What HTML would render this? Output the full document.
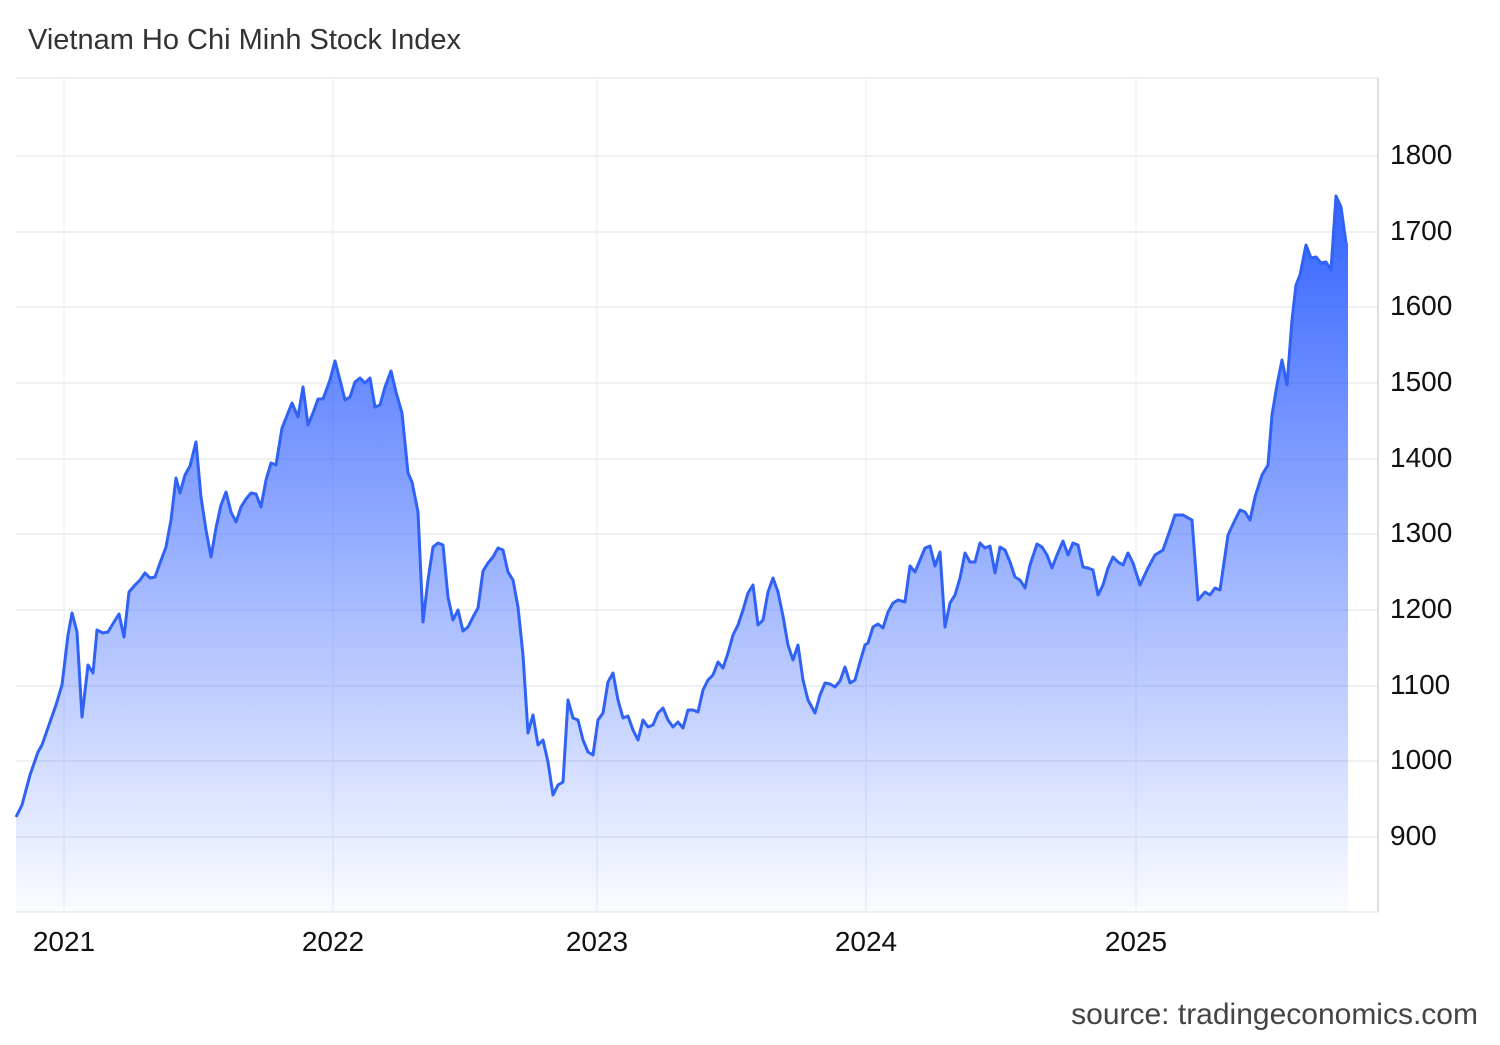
<!DOCTYPE html>
<html><head><meta charset="utf-8"><style>
body{margin:0;background:#fff;}
svg text{font-family:"Liberation Sans",Arial,sans-serif;}
</style></head><body>
<svg width="1500" height="1040" viewBox="0 0 1500 1040" xmlns="http://www.w3.org/2000/svg">
<defs>
<linearGradient id="fill" gradientUnits="userSpaceOnUse" x1="0" y1="195" x2="0" y2="912">
<stop offset="0" stop-color="#3363ff" stop-opacity="1"/>
<stop offset="1" stop-color="#3a66ff" stop-opacity="0.02"/>
</linearGradient>
</defs>
<text x="28" y="49" font-size="29" fill="#333">Vietnam Ho Chi Minh Stock Index</text>
<g stroke="#e3e6ea" stroke-width="1.3">
<line x1="16" y1="78" x2="1378" y2="78"/>
<line x1="16" y1="156" x2="1378" y2="156"/>
<line x1="16" y1="232" x2="1378" y2="232"/>
<line x1="16" y1="307" x2="1378" y2="307"/>
<line x1="16" y1="383" x2="1378" y2="383"/>
<line x1="16" y1="459" x2="1378" y2="459"/>
<line x1="16" y1="534" x2="1378" y2="534"/>
<line x1="16" y1="610" x2="1378" y2="610"/>
<line x1="16" y1="686" x2="1378" y2="686"/>
<line x1="16" y1="761" x2="1378" y2="761"/>
<line x1="16" y1="837" x2="1378" y2="837"/>
<line x1="16" y1="912" x2="1378" y2="912"/>
<line x1="64" y1="78" x2="64" y2="912" stroke="#e8f0f6"/>
<line x1="333" y1="78" x2="333" y2="912" stroke="#e8f0f6"/>
<line x1="597" y1="78" x2="597" y2="912" stroke="#e8f0f6"/>
<line x1="866" y1="78" x2="866" y2="912" stroke="#e8f0f6"/>
<line x1="1136" y1="78" x2="1136" y2="912" stroke="#e8f0f6"/>
<line x1="1378" y1="78" x2="1378" y2="912" stroke="#ccc"/>
</g>
<path fill="url(#fill)" d="M16,817 L22,805 L30,775 L38,752 L42,745 L50,722 L56,705 L62,685 L68,635 L72,613 L77,632 L82,717 L88,665 L93,673 L97,630 L103,633 L108,632 L114,622 L119,614 L124,637 L129,592 L135,585 L140,580 L145,573 L150,578 L155,577 L160,563 L166,547 L171,520 L176,478 L180,493 L185,475 L190,466 L196,442 L201,497 L206,530 L211,557 L216,528 L221,505 L226,492 L231,512 L236,522 L241,507 L246,499 L251,493 L256,494 L261,507 L266,480 L271,463 L276,465 L282,428 L286,418 L292,403 L298,417 L303,387 L308,425 L313,413 L318,399 L323,399 L330,380 L335,361 L340,380 L345,400 L350,397 L355,382 L360,378 L365,383 L370,378 L375,407 L380,405 L385,387 L391,371 L396,392 L402,413 L408,473 L412,482 L418,512 L423,622 L428,580 L433,547 L438,543 L443,545 L448,597 L453,620 L458,610 L463,631 L468,627 L473,617 L478,608 L483,571 L488,563 L493,557 L498,548 L503,550 L508,572 L513,580 L518,607 L523,655 L528,733 L533,715 L538,745 L543,740 L548,762 L553,795 L558,785 L563,782 L568,700 L573,718 L578,720 L583,740 L588,752 L593,755 L598,720 L603,713 L608,682 L613,673 L618,700 L623,718 L628,716 L633,730 L638,740 L643,720 L648,727 L653,725 L658,713 L663,708 L668,720 L673,727 L678,722 L683,728 L688,710 L693,710 L698,712 L703,690 L708,680 L713,675 L718,662 L723,668 L728,653 L733,635 L738,625 L743,610 L748,593 L753,585 L758,625 L763,620 L768,592 L773,578 L778,592 L783,616 L788,645 L793,660 L798,645 L803,680 L808,700 L815,713 L820,695 L825,683 L830,684 L835,687 L840,681 L845,667 L850,683 L855,680 L860,662 L865,645 L868,643 L873,627 L878,624 L883,628 L888,612 L893,603 L898,600 L905,602 L910,566 L915,572 L920,560 L925,548 L930,546 L935,566 L940,552 L945,627 L950,603 L955,595 L960,578 L965,553 L970,562 L975,562 L980,543 L985,548 L990,546 L995,573 L1000,547 L1005,550 L1010,562 L1015,577 L1020,580 L1025,588 L1030,565 L1037,544 L1042,547 L1047,555 L1052,568 L1057,555 L1063,541 L1068,555 L1073,543 L1078,545 L1083,567 L1088,568 L1093,570 L1098,595 L1103,585 L1108,568 L1113,557 L1118,562 L1123,565 L1128,553 L1133,563 L1140,585 L1148,568 L1155,555 L1163,550 L1170,530 L1175,515 L1183,515 L1192,520 L1198,600 L1205,592 L1210,595 L1215,588 L1220,590 L1228,535 L1235,520 L1240,510 L1245,512 L1250,520 L1255,497 L1262,475 L1268,465 L1272,415 L1277,385 L1282,360 L1287,385 L1292,320 L1296,285 L1300,275 L1306,245 L1311,258 L1316,257 L1321,263 L1326,262 L1331,270 L1336,196 L1341,207 L1346,243 L1348,243 L1348,912 L16,912 Z"/>
<path fill="none" stroke="#2f62f5" stroke-width="3" stroke-linejoin="round" d="M16,817 L22,805 L30,775 L38,752 L42,745 L50,722 L56,705 L62,685 L68,635 L72,613 L77,632 L82,717 L88,665 L93,673 L97,630 L103,633 L108,632 L114,622 L119,614 L124,637 L129,592 L135,585 L140,580 L145,573 L150,578 L155,577 L160,563 L166,547 L171,520 L176,478 L180,493 L185,475 L190,466 L196,442 L201,497 L206,530 L211,557 L216,528 L221,505 L226,492 L231,512 L236,522 L241,507 L246,499 L251,493 L256,494 L261,507 L266,480 L271,463 L276,465 L282,428 L286,418 L292,403 L298,417 L303,387 L308,425 L313,413 L318,399 L323,399 L330,380 L335,361 L340,380 L345,400 L350,397 L355,382 L360,378 L365,383 L370,378 L375,407 L380,405 L385,387 L391,371 L396,392 L402,413 L408,473 L412,482 L418,512 L423,622 L428,580 L433,547 L438,543 L443,545 L448,597 L453,620 L458,610 L463,631 L468,627 L473,617 L478,608 L483,571 L488,563 L493,557 L498,548 L503,550 L508,572 L513,580 L518,607 L523,655 L528,733 L533,715 L538,745 L543,740 L548,762 L553,795 L558,785 L563,782 L568,700 L573,718 L578,720 L583,740 L588,752 L593,755 L598,720 L603,713 L608,682 L613,673 L618,700 L623,718 L628,716 L633,730 L638,740 L643,720 L648,727 L653,725 L658,713 L663,708 L668,720 L673,727 L678,722 L683,728 L688,710 L693,710 L698,712 L703,690 L708,680 L713,675 L718,662 L723,668 L728,653 L733,635 L738,625 L743,610 L748,593 L753,585 L758,625 L763,620 L768,592 L773,578 L778,592 L783,616 L788,645 L793,660 L798,645 L803,680 L808,700 L815,713 L820,695 L825,683 L830,684 L835,687 L840,681 L845,667 L850,683 L855,680 L860,662 L865,645 L868,643 L873,627 L878,624 L883,628 L888,612 L893,603 L898,600 L905,602 L910,566 L915,572 L920,560 L925,548 L930,546 L935,566 L940,552 L945,627 L950,603 L955,595 L960,578 L965,553 L970,562 L975,562 L980,543 L985,548 L990,546 L995,573 L1000,547 L1005,550 L1010,562 L1015,577 L1020,580 L1025,588 L1030,565 L1037,544 L1042,547 L1047,555 L1052,568 L1057,555 L1063,541 L1068,555 L1073,543 L1078,545 L1083,567 L1088,568 L1093,570 L1098,595 L1103,585 L1108,568 L1113,557 L1118,562 L1123,565 L1128,553 L1133,563 L1140,585 L1148,568 L1155,555 L1163,550 L1170,530 L1175,515 L1183,515 L1192,520 L1198,600 L1205,592 L1210,595 L1215,588 L1220,590 L1228,535 L1235,520 L1240,510 L1245,512 L1250,520 L1255,497 L1262,475 L1268,465 L1272,415 L1277,385 L1282,360 L1287,385 L1292,320 L1296,285 L1300,275 L1306,245 L1311,258 L1316,257 L1321,263 L1326,262 L1331,270 L1336,196 L1341,207 L1346,243"/>
<g font-size="28" fill="#111">
<text x="1390" y="164">1800</text>
<text x="1390" y="240">1700</text>
<text x="1390" y="315">1600</text>
<text x="1390" y="391">1500</text>
<text x="1390" y="467">1400</text>
<text x="1390" y="542">1300</text>
<text x="1390" y="618">1200</text>
<text x="1390" y="694">1100</text>
<text x="1390" y="769">1000</text>
<text x="1390" y="845">900</text>
<g text-anchor="middle">
<text x="64" y="951">2021</text>
<text x="333" y="951">2022</text>
<text x="597" y="951">2023</text>
<text x="866" y="951">2024</text>
<text x="1136" y="951">2025</text>
</g>
</g>
<text x="1478" y="1024" font-size="30" fill="#444" text-anchor="end">source: tradingeconomics.com</text>
</svg>
</body></html>
